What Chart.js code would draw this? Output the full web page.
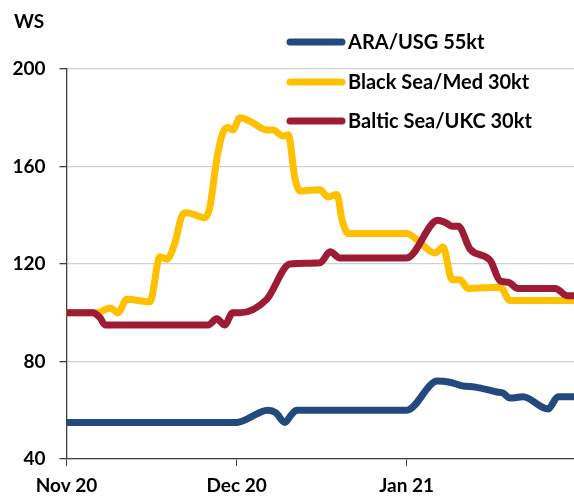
<!DOCTYPE html>
<html>
<head>
<meta charset="utf-8">
<script src="https://cdn.jsdelivr.net/npm/chart.js@4.4.0/dist/chart.umd.min.js"></script>
<style>
  body { margin: 0; background: #fff; }
  canvas { display: block; }
</style>
</head>
<body>
<canvas id="chart" width="574" height="498"></canvas>
<script>
// x is in days from the start of Nov 2020 (month ticks placed at 0 / 30 / 60)
const monthTicks = [0, 30, 60];
const monthLabels = ["Nov 20", "Dec 20", "Jan 21"];

const seriesNames = ["ARA/USG 55kt", "Black Sea/Med 30kt", "Baltic Sea/UKC 30kt"];
const seriesColors = ["#234a7e", "#ffc000", "#9e1b36"];

const araDays = [0, 30, 35.5, 36.9, 38.5, 39.6, 40.6, 60, 65.4, 67.6, 69.8, 72.1, 75.9, 77, 78.2, 80.5, 84.9, 86.7, 89.5];
const araWs   = [55, 55, 60, 59, 55, 58, 60, 60, 72, 71.5, 70, 69.5, 67.5, 67, 65, 65.5, 60.5, 65.5, 65.5];

const blackDays = [0, 5.4, 7.7, 9.1, 10.6, 14.7, 16.5, 17.7, 19.1, 20.4, 21.2, 24.4, 25.3, 26.5, 27.6, 28.5, 29.3, 30.6, 32.4, 35.3, 36.4, 38.2, 39.1, 40.3, 41.2, 44.7, 46.1, 47.7, 48.6, 49.7, 60, 61.8, 65, 66.4, 68, 69.4, 70.8, 76.5, 78.2, 89.5];
const blackWs   = [100, 100, 102, 100, 105.5, 104.5, 123, 122, 128.5, 140, 141, 139, 143.5, 163, 174, 176, 175, 180, 178.5, 175, 175, 172.5, 173, 155, 150, 150.5, 147.5, 148.5, 138, 132.5, 132.5, 130, 124.5, 127, 113.5, 113.5, 110, 110.5, 105, 105];

const balticDays = [0, 4.6, 5.9, 6.8, 25, 26.5, 27.9, 29.3, 30.6, 35.3, 39.4, 44.7, 46.5, 48.2, 60, 65.5, 66.8, 68, 69.1, 71.2, 74.7, 76.5, 77.9, 79.6, 86.2, 88.3, 89.5];
const balticWs   = [100, 100, 98, 95, 95, 97.5, 95, 100, 100, 105.5, 120, 120.5, 125, 122.5, 122.5, 138, 137, 135.5, 135.5, 126, 121.5, 113, 112.5, 110, 110, 107, 107];

const yTicks = [40, 80, 120, 160, 200];

function toPoints(days, vals) {
  return days.map((d, i) => ({ x: d, y: vals[i] }));
}

const FONT = "Lato";
const DARK = "#404040";

const overlay = {
  id: "overlay",
  afterDraw(chart) {
    const ctx = chart.ctx;
    ctx.save();
    ctx.fillStyle = "#000";
    ctx.textBaseline = "middle";
    ctx.textAlign = "left";
    ctx.font = "bold 19px " + FONT;
    ctx.fillText("WS", 14, 22);

    // legend
    ctx.font = "bold 20px " + FONT;
    const rowY = [42, 82, 121];
    seriesNames.forEach((name, i) => {
      ctx.strokeStyle = seriesColors[i];
      ctx.lineWidth = 7;
      ctx.lineCap = "round";
      ctx.beginPath();
      ctx.moveTo(290, rowY[i]);
      ctx.lineTo(342, rowY[i]);
      ctx.stroke();
      ctx.fillStyle = "#000";
      ctx.fillText(name, 348, rowY[i] + 1);
    });
    ctx.restore();
  }
};

const lineStyle = {
  borderWidth: 7,
  pointRadius: 0,
  cubicInterpolationMode: "monotone",
  borderCapStyle: "round",
  borderJoinStyle: "round",
  fill: false
};

new Chart(document.getElementById("chart"), {
  type: "line",
  data: {
    datasets: [
      { label: seriesNames[0], data: toPoints(araDays, araWs), borderColor: seriesColors[0], order: 2, ...lineStyle },
      { label: seriesNames[1], data: toPoints(blackDays, blackWs), borderColor: seriesColors[1], order: 1, ...lineStyle },
      { label: seriesNames[2], data: toPoints(balticDays, balticWs), borderColor: seriesColors[2], order: 0, ...lineStyle }
    ]
  },
  options: {
    responsive: false,
    animation: false,
    layout: { padding: { top: 69, right: 0, bottom: 0, left: 0 } },
    plugins: { legend: { display: false }, tooltip: { enabled: false } },
    scales: {
      x: {
        type: "linear",
        min: 0,
        max: 89.5,
        afterBuildTicks: s => { s.ticks = monthTicks.map(v => ({ value: v })); },
        afterFit: s => { s.height = 39; },
        ticks: {
          callback: v => monthLabels[monthTicks.indexOf(v)],
          font: { family: FONT, size: 19, weight: "bold" },
          color: "#000",
          padding: 8,
          maxRotation: 0,
          autoSkip: false
        },
        grid: { drawOnChartArea: false, tickLength: 7, tickColor: DARK },
        border: { color: DARK, width: 1.3 }
      },
      y: {
        min: 40,
        max: 200,
        afterBuildTicks: s => { s.ticks = yTicks.map(v => ({ value: v })); },
        afterFit: s => { s.width = 66.5; },
        ticks: {
          font: { family: FONT, size: 19, weight: "bold" },
          color: "#000",
          padding: 14
        },
        grid: { color: "#d0d0d0", lineWidth: 1.3, tickLength: 7, tickColor: DARK },
        border: { color: DARK, width: 1.3 }
      }
    }
  },
  plugins: [overlay]
});
</script>
</body>
</html>
